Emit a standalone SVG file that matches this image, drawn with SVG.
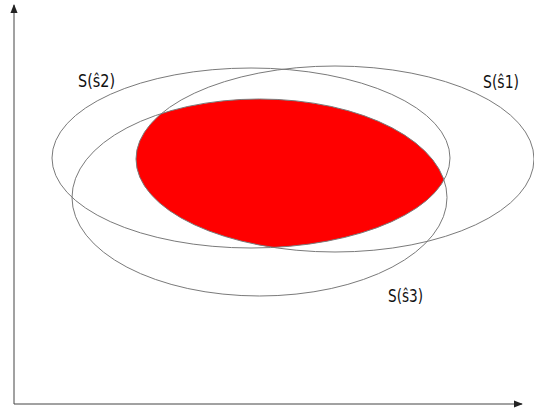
<svg xmlns="http://www.w3.org/2000/svg" width="534" height="410" viewBox="0 0 534 410">
<style>
.set{fill:none;stroke:#7a7a7a;stroke-width:1}
.lbl{font-family:"DejaVu Sans Condensed","DejaVu Sans",sans-serif;font-size:17px;fill:#111}
.axis{stroke:#444;stroke-width:1;fill:none}
</style>
<defs>
<marker id="arr" viewBox="0 0 10 10" refX="9" refY="5" markerWidth="9" markerHeight="9" markerUnits="userSpaceOnUse" orient="auto">
<path d="M0,1 L10,5 L0,9 z" fill="#222"/>
</marker>
<clipPath id="c2"><ellipse cx="251" cy="158" rx="199" ry="90"/></clipPath>
<clipPath id="c3"><ellipse cx="259.5" cy="197.5" rx="187.5" ry="98.5"/></clipPath>
</defs>
<rect width="534" height="410" fill="#fff"/>
<g id="connectors">
<line class="axis" x1="14" y1="404" x2="14" y2="5" marker-end="url(#arr)"/>
<line class="axis" x1="14" y1="404" x2="522" y2="404" marker-end="url(#arr)"/>
</g>
<g id="intersection">
<g clip-path="url(#c2)"><g clip-path="url(#c3)">
<ellipse cx="335" cy="159" rx="199" ry="93" fill="#ff0000"/>
</g></g>
</g>
<g id="s1">
<ellipse class="set" cx="335" cy="159" rx="199" ry="93"/>
<text class="lbl" x="483" y="88" textLength="36" lengthAdjust="spacingAndGlyphs">S(ŝ1)</text>
</g>
<g id="s2">
<ellipse class="set" cx="251" cy="158" rx="199" ry="90"/>
<text class="lbl" x="78" y="87" textLength="37" lengthAdjust="spacingAndGlyphs">S(ŝ2)</text>
</g>
<g id="s3">
<ellipse class="set" cx="259.5" cy="197.5" rx="187.5" ry="98.5"/>
<text class="lbl" x="388" y="302" textLength="35" lengthAdjust="spacingAndGlyphs">S(ŝ3)</text>
</g>
</svg>
